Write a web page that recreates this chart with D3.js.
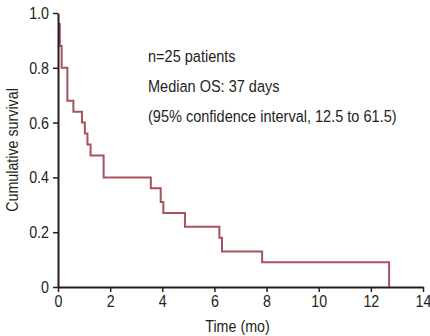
<!DOCTYPE html>
<html>
<head>
<meta charset="utf-8">
<script src="https://cdn.jsdelivr.net/npm/d3@7"></script>
<style>
  body { margin: 0; background: #fff; }
  svg text { font-family: "Liberation Sans", Arial, sans-serif; fill: #231f20; }
</style>
</head>
<body>
<div id="chart"></div>
<script>
// Kaplan-Meier steps (months, cumulative survival)
const times    = [0, 0.07, 0.14, 0.36, 0.59, 0.92, 1.03, 1.13, 1.25, 1.75, 3.56, 3.94, 4.04, 4.87, 6.19, 6.29, 7.83, 12.7];
const survival = [0.96, 0.88, 0.80, 0.68, 0.64, 0.60, 0.56, 0.52, 0.48, 0.40, 0.36, 0.31, 0.27, 0.22, 0.18, 0.13, 0.09, 0];

const xTicks = [0, 2, 4, 6, 8, 10, 12, 14];
const yTicks = [0, 0.2, 0.4, 0.6, 0.8, 1.0];
const notes = ["n=25 patients", "Median OS: 37 days", "(95% confidence interval, 12.5 to 61.5)"];

const width = 430, height = 336;
const margin = {top: 13, right: 7, bottom: 49, left: 58};
const narrow = 0.84; // no condensed face installed, so squeeze the regular one

let svg = d3.select("#chart")
    .append("svg")
    .attr("width", width)
    .attr("height", height);

let x = d3.scaleLinear().domain([0, 14]).range([margin.left, width - margin.right]);
let y = d3.scaleLinear().domain([0, 1]).range([height - margin.bottom, margin.top]);

// survival curve
let points = times.map(function (t, i) { return [t, survival[i]]; });
let line = d3.line()
    .x(function (d) { return x(d[0]); })
    .y(function (d) { return y(d[1]); })
    .curve(d3.curveStepAfter);

svg.append("path")
    .datum(points)
    .attr("d", line)
    .attr("fill", "none")
    .attr("stroke", "#a5545d")
    .attr("stroke-width", 2);

// axes
let xAxis = svg.append("g")
    .attr("transform", `translate(0, ${y(0)})`)
    .call(d3.axisBottom(x).tickValues(xTicks).tickSize(5).tickSizeOuter(0).tickFormat(d3.format("d")));

let yAxis = svg.append("g")
    .attr("transform", `translate(${x(0)}, 0)`)
    .call(d3.axisLeft(y).tickValues(yTicks).tickSize(5).tickSizeOuter(0)
        .tickFormat(function (d) { return d === 0 ? "0" : d3.format(".1f")(d); }));

[xAxis, yAxis].forEach(function (g) {
    g.select(".domain").attr("stroke", "#231f20").attr("stroke-width", 2);
    g.selectAll(".tick line").attr("stroke", "#231f20").attr("stroke-width", 1.5);
    g.selectAll(".tick text")
        .style("font-size", "17px")
        .attr("fill", "#231f20")
        .attr("transform", `scale(${narrow},1)`);
});
yAxis.selectAll(".tick text").attr("x", -9 / narrow);

// axis titles
svg.append("text")
    .attr("transform", `translate(${x(7) - 3}, 332) scale(${narrow},1)`)
    .attr("text-anchor", "middle")
    .style("font-size", "17px")
    .text("Time (mo)");

svg.append("text")
    .attr("transform", `translate(18, ${y(0.5)}) rotate(-90) scale(${narrow},1)`)
    .attr("text-anchor", "middle")
    .style("font-size", "17px")
    .text("Cumulative survival");

// annotation
svg.selectAll(".note")
    .data(notes)
    .join("text")
    .attr("class", "note")
    .attr("transform", function (d, i) { return `translate(148, ${62 + i * 30}) scale(0.855,1)`; })
    .style("font-size", "17px")
    .text(function (d) { return d; });
</script>
</body>
</html>
